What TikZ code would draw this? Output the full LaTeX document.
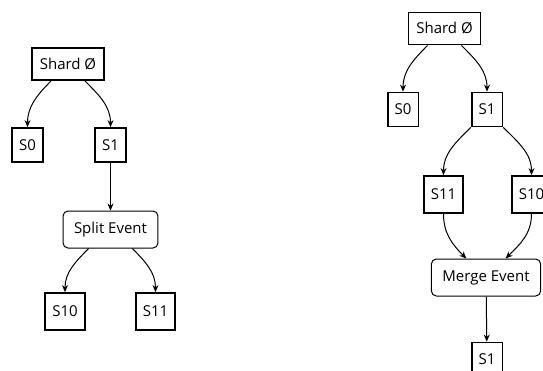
\documentclass[tikz,border=0pt]{standalone}
\usepackage{fontspec}
\setmainfont{Open Sans}
\usetikzlibrary{arrows.meta}

\begin{document}
\begin{tikzpicture}[
    x=1pt, y=1pt,
    font=\fontsize{15}{17}\selectfont,
    box/.style={rectangle, draw, line width=1.8pt, inner xsep=7pt, minimum height=34pt, align=center},
    shardbox/.style={box, minimum width=72pt, minimum height=32pt},
    eventbox/.style={rectangle, draw, line width=1pt, rounded corners=5pt, minimum height=37pt, inner xsep=11pt},
    arrow/.style={-{Stealth[length=7pt,width=6pt]}, line width=1pt}
]
\useasboundingbox (0,0) rectangle (543,-370);

% Split
\node[shardbox] (shardA) at (68,-64) {Shard Ø};
\node[box] (s0A) at (27.5,-145) {S0};
\node[box] (s1A) at (110.5,-145) {S1};
\node[eventbox] (split) at (110.5,-229.5) {Split Event};
\node[box, minimum height=37pt] (s10A) at (65,-311.5) {S10};
\node[box, minimum height=37pt] (s11A) at (155.5,-311.5) {S11};

% Merge
\node[shardbox] (shardB) at (444.5,-28.5) {Shard Ø};
\node[box] (s0B) at (403,-109.5) {S0};
\node[box] (s1B) at (487,-109.5) {S1};
\node[box, minimum height=37pt] (s11B) at (443.5,-194.5) {S11};
\node[box, minimum height=37pt] (s10B) at (531.5,-194.5) {S10};
\node[eventbox] (merge) at (486,-277.5) {Merge Event};
\node[box] (s1C) at (487,-359.5) {S1};

% 连接
\draw[arrow] (shardA.-135) to[out=-135, in=90] (s0A.north);
\draw[arrow] (shardA.-45) to[out=-45, in=90] (s1A.north);
\draw[arrow] (s1A) -- (split);
\draw[arrow] (split.-139) to[out=-135, in=90] (s10A.north);
\draw[arrow] (split.-41) to[out=-45, in=90] (s11A.north);

\draw[arrow] (shardB.-135) to[out=-135, in=90] (s0B.north);
\draw[arrow] (shardB.-45) to[out=-45, in=90] (s1B.north);
\draw[arrow] (s1B.south west) to[out=-135, in=90] (s11B.north);
\draw[arrow] (s1B.south east) to[out=-45, in=90] (s10B.north);
\draw[arrow] (s11B.south) to[out=-90, in=135] (merge.136);
\draw[arrow] (s10B.south) to[out=-90, in=45] (merge.44);
\draw[arrow] (merge) -- (s1C);

\end{tikzpicture}
\end{document}
